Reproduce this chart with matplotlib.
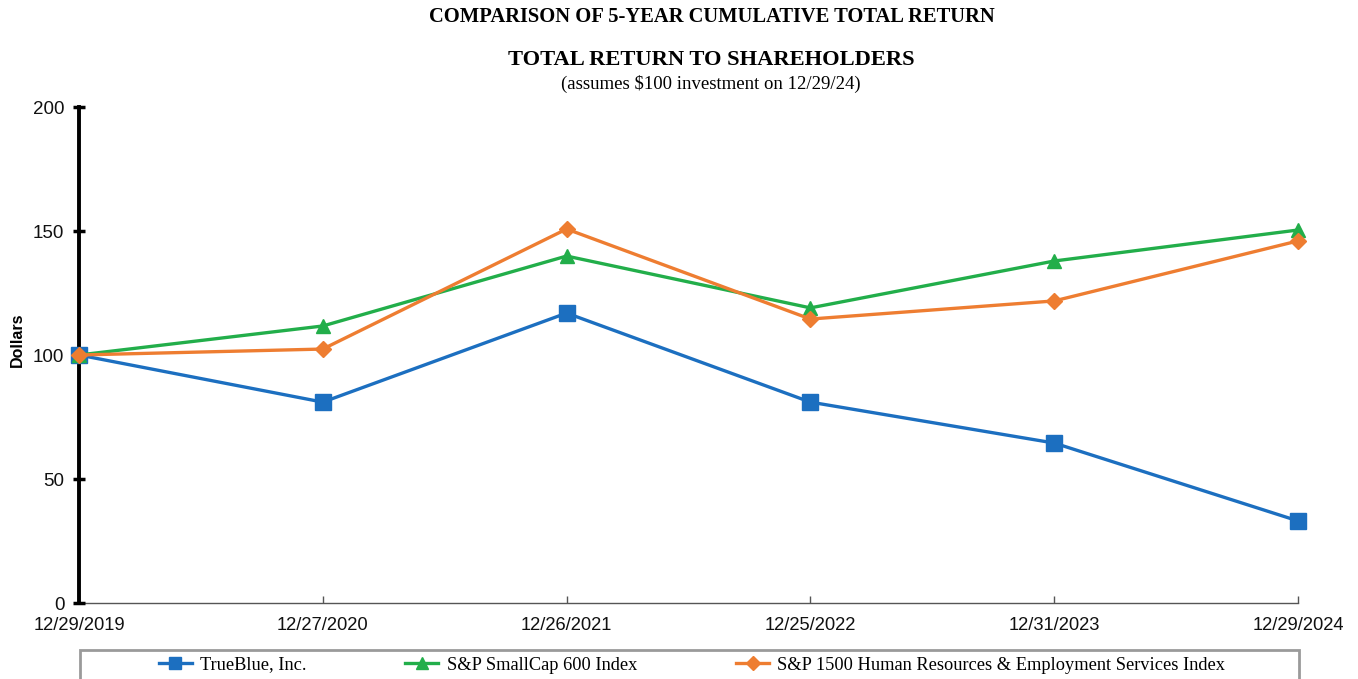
import matplotlib
matplotlib.use("Agg")
import matplotlib.pyplot as plt
from matplotlib.patches import Rectangle

dates = ["12/29/2019", "12/27/2020", "12/26/2021", "12/25/2022", "12/31/2023", "12/29/2024"]
trueblue = [100, 81.0, 116.9, 81.0, 64.5, 33.1]
smallcap = [100, 111.7, 139.9, 119.0, 137.9, 150.4]
hr_index = [100, 102.4, 150.8, 114.5, 121.8, 146.0]
series_names = ["TrueBlue, Inc.", "S&P SmallCap 600 Index",
                "S&P 1500 Human Resources & Employment Services Index"]
yticks = [0, 50, 100, 150, 200]

W, H = 1358, 679
fig = plt.figure(figsize=(W / 100, H / 100), dpi=100)
ax = fig.add_axes([79 / W, 1 - 603 / H, (1298 - 79) / W, (603 - 107) / H])

x = list(range(len(dates)))
blue, green, orange = "#1C6FC0", "#22AE4A", "#EE7D31"
ax.plot(x, trueblue, color=blue, lw=2.4, marker="s", ms=11, label=series_names[0],
        zorder=3, clip_on=False)
ax.plot(x, smallcap, color=green, lw=2.4, marker="^", ms=10.5, label=series_names[1],
        zorder=4, clip_on=False)
ax.plot(x, hr_index, color=orange, lw=2.4, marker="D", ms=8, label=series_names[2],
        zorder=5, clip_on=False)

ax.set_xlim(0, len(dates) - 1)
ax.set_ylim(0, 200)
ax.set_yticks(yticks)
ax.set_xticks(x)
ax.set_xticklabels(dates)

for s in ["top", "right"]:
    ax.spines[s].set_visible(False)
ax.spines["left"].set_linewidth(2.8)
ax.spines["left"].set_color("black")
ax.spines["left"].set_zorder(2)
ax.spines["bottom"].set_linewidth(1.0)
ax.spines["bottom"].set_color("#555555")
ax.spines["bottom"].set_zorder(1)

ax.tick_params(axis="y", direction="inout", length=9, width=2.5, color="black",
               labelsize=13.5, pad=6)
ax.tick_params(axis="x", direction="in", length=5, width=1, color="#555555",
               labelsize=13.2, pad=10)
for lab in ax.get_xticklabels() + ax.get_yticklabels():
    lab.set_fontfamily("Liberation Sans")
    lab.set_color("#111111")

fig.text(17 / W, 1 - 340 / H, "Dollars", rotation=90, ha="center", va="center",
         fontsize=11.5, fontweight="bold", family="Liberation Sans")

fig.text(712 / W, 1 - 17 / H, "COMPARISON OF 5-YEAR CUMULATIVE TOTAL RETURN",
         ha="center", va="center", fontsize=14.8, fontweight="bold", family="Liberation Serif")
fig.text(711 / W, 1 - 60 / H, "TOTAL RETURN TO SHAREHOLDERS",
         ha="center", va="center", fontsize=16.2, fontweight="bold", family="Liberation Serif")
fig.text(711 / W, 1 - 84 / H, "(assumes $100 investment on 12/29/24)",
         ha="center", va="center", fontsize=13.5, family="Liberation Serif")

# legend box (extends past figure bottom like the reference)
fig.patches.append(Rectangle((80 / W, 1 - 700 / H), (1299 - 80) / W, (700 - 650) / H,
                             transform=fig.transFigure, fill=False,
                             edgecolor="#9a9a9a", lw=2))
leg = fig.legend(loc="center", bbox_to_anchor=(692 / W, 1 - 665 / H), ncol=3,
                 frameon=False, handlelength=1.8, handletextpad=0.45,
                 columnspacing=5.4, prop={"family": "Liberation Serif", "size": 13.2},
                 markerscale=0.85)

fig.savefig("out.png", dpi=100)
